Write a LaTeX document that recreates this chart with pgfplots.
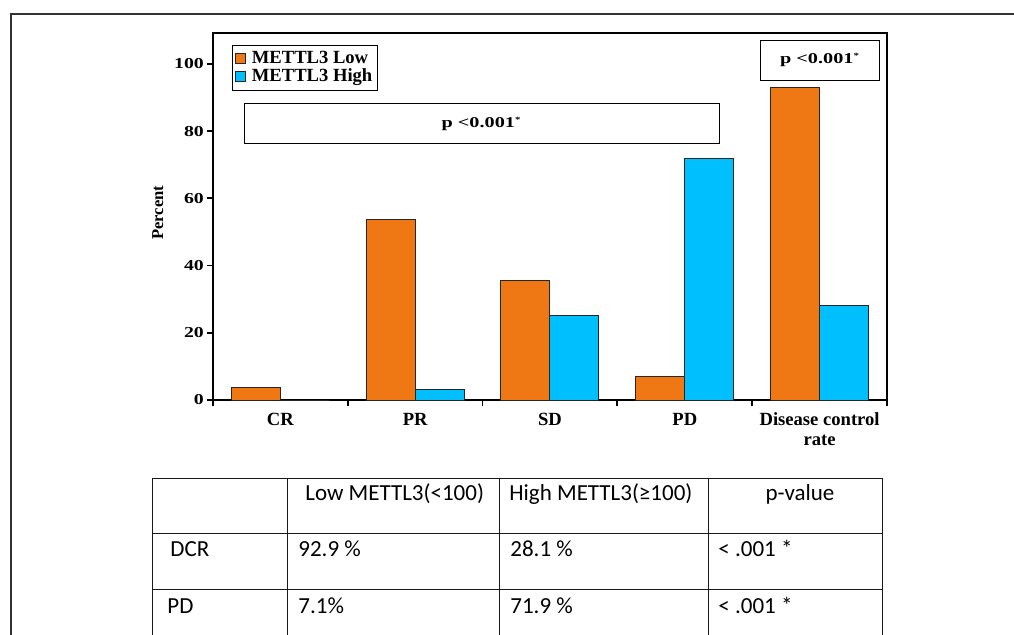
\documentclass[border=0pt]{standalone}
\usepackage{fontspec}
\setmainfont{Liberation Serif}
\newfontfamily\tabfont{Carlito}
\usepackage{pgfplots}
\pgfplotsset{compat=1.18}
\definecolor{lowc}{HTML}{F07814}
\definecolor{highc}{HTML}{00BFFF}
\definecolor{framec}{HTML}{333333}
\pgfplotsset{mylegend/.style={legend image code/.code={\draw[##1, line width=0.4pt, bar shift=0pt] (0pt,-2.5pt) rectangle (5pt,2.5pt);}}}
\begin{document}
\begin{tikzpicture}
\path[use as bounding box] (0,0) rectangle (507pt,-317pt);
\begin{axis}[
  at={(106.5pt,-200pt)}, anchor=south west,
  scale only axis, width=337pt, height=183.5pt,
  xmin=-0.5, xmax=4.5, ymin=0, ymax=109.2,
  ybar=0pt, bar width=24.5pt,
  xtick={0,1,2,3,4},
  xticklabels={CR,PR,SD,PD,{Disease control\\rate}},
  x tick label style={align=center, font=\fontsize{9.3}{10}\selectfont\bfseries, yshift=-3pt},
  ytick={0,20,...,100},
  /pgf/number format/assume math mode=true,
  y tick label style={font=\fontsize{7.6}{8}\selectfont\bfseries, xscale=1.3},
  minor xtick={-0.5,0.5,...,4.5},
  minor ytick={0,20,...,100},
  major tick length=0pt, minor tick length=3pt,
  tick align=outside, tick pos=left,
  axis line style={line width=0.9pt},
  every tick/.style={black, line width=0.9pt},
  ylabel={Percent},
  every axis y label/.style={at={(axis description cs:-0.082,0.51)}, rotate=90, anchor=center, font=\fontsize{8.3}{9}\selectfont\bfseries},
  legend style={at={(0.0282,0.967)}, anchor=north west, draw=black, line width=0.5pt,
    font=\fontsize{9.3}{10}\selectfont\bfseries, inner sep=1.3pt, row sep=-2pt, column sep=1.5pt,
    nodes={inner sep=1.5pt}},
  legend cell align=left,
]
\addplot[fill=lowc, draw=black!85, line width=0.5pt, mylegend] coordinates {(0,3.6) (1,53.6) (2,35.7) (3,7.1) (4,92.9)};
\addplot[fill=highc, draw=black!85, line width=0.5pt, mylegend] coordinates {(0,0) (1,3.1) (2,25) (3,71.9) (4,28.1)};
\legend{METTL3 Low, METTL3 High}
\end{axis}
\begin{scope}[x=0.5pt,y=-0.5pt]
  \draw[framec, line width=1pt] (11,640) -- (11,14) -- (1020,14);
  \draw[line width=0.5pt] (244,103) rectangle (719,143);
  \node[font=\fontsize{7.5}{8}\selectfont\bfseries, xscale=1.35] at (481,124) {p <0.001\raisebox{0.7ex}{\fontsize{4}{4}\selectfont *}};
  \draw[line width=0.5pt] (760,40) rectangle (879,80);
  \node[font=\fontsize{7.5}{8}\selectfont\bfseries, xscale=1.35] at (819.5,60) {p <0.001\raisebox{0.7ex}{\fontsize{4}{4}\selectfont *}};
  % table
  \begin{scope}[line width=0.5pt, draw=black!90]
    \draw (152,478) -- (882,478);
    \draw (152,533) -- (882,533);
    \draw (152,589) -- (882,589);
    \foreach \xx in {152,287,499,708,882} {\draw (\xx,478) -- (\xx,640);}
  \end{scope}
  \begin{scope}[every node/.style={font=\tabfont\fontsize{11.5}{12}\selectfont, inner sep=0pt}]
    \node[anchor=base west] at (305,500) {Low METTL3(<100)};
    \node[anchor=base west] at (509,500) {High METTL3(≥100)};
    \node[anchor=base] at (800,500) {p-value};
    \node[anchor=base west] at (170,556) {DCR};
    \node[anchor=base west] at (298,556) {92.9 \%};
    \node[anchor=base west] at (510,556) {28.1 \%};
    \node[anchor=base west] at (718,556) {< .001 *};
    \node[anchor=base west] at (167,613) {PD};
    \node[anchor=base west] at (298,613) {7.1\%};
    \node[anchor=base west] at (510,613) {71.9 \%};
    \node[anchor=base west] at (718,613) {< .001 *};
  \end{scope}
\end{scope}
\end{tikzpicture}
\end{document}
